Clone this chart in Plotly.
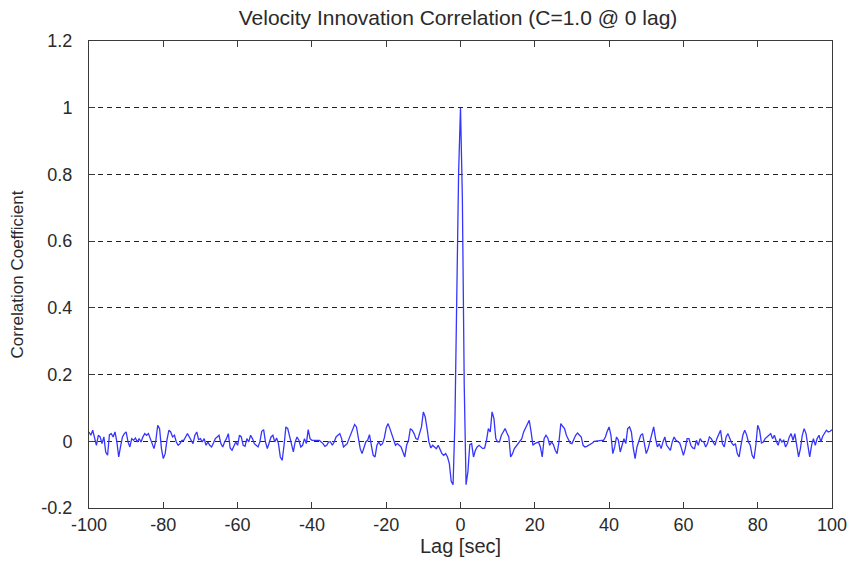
import numpy as np
import plotly.graph_objects as go

# Lag grid (sec), 0.5 s spacing
lag_step = 0.5
lags_neg = np.arange(-100, 0, lag_step)      # -100 ... -0.5
lags_pos = np.arange(0, 100 + lag_step / 2, lag_step)  # 0 ... 100

# Correlation coefficient for negative lags (-100 ... -0.5)
corr_neg = [
    0.028, 0.018, 0.033, 0.008, -0.012, 0.018, 0.013, -0.007, 0.013, -0.032,
    -0.042, 0.020, 0.023, 0.013, 0.028, -0.002, -0.047, -0.015, 0.013, 0.023,
    0.028, -0.002, -0.017, 0.008, 0.003, 0.010, -0.002, 0.008, -0.002, 0.013,
    0.023, 0.018, 0.023, 0.008, -0.005, -0.022, 0.003, 0.048, 0.038, -0.022,
    -0.052, -0.037, 0.005, 0.033, 0.028, 0.013, 0.018, -0.002, -0.012, -0.007,
    0.003, 0.003, 0.013, 0.023, 0.013, 0.003, -0.007, 0.018, 0.028, 0.005,
    0.008, -0.002, 0.008, -0.012, -0.002, -0.012, -0.017, -0.005, 0.008, 0.013,
    0.018, -0.007, -0.017, -0.002, 0.008, 0.023, -0.020, -0.027, -0.012, -0.002,
    -0.012, 0.018, 0.013, -0.012, -0.015, 0.008, -0.002, 0.018, 0.008, -0.007,
    -0.012, -0.017, -0.002, 0.030, 0.035, -0.002, -0.022, -0.007, 0.013, 0.018,
    -0.002, 0.010, -0.007, -0.047, -0.057, -0.012, 0.043, 0.038, 0.013, -0.005,
    -0.032, -0.002, 0.013, 0.003, -0.017, -0.012, 0.008, -0.007, 0.035, 0.008,
    0.003, 0.003, 0.003, 0.003, 0.003, -0.002, -0.007, -0.015, -0.012, -0.002,
    -0.002, -0.012, -0.002, 0.013, 0.018, 0.023, 0.008, -0.017, -0.012, -0.007,
    0.008, 0.023, 0.033, 0.050, 0.043, 0.013, -0.022, -0.037, -0.022, -0.002,
    0.003, 0.020, -0.012, -0.042, -0.047, -0.012, -0.002, -0.012, -0.007, 0.010,
    0.040, 0.053, 0.038, 0.023, 0.003, -0.012, -0.007, -0.012, -0.017, -0.032,
    -0.047, -0.012, 0.003, 0.038, 0.033, 0.023, 0.008, 0.005, 0.023, 0.043,
    0.088, 0.073, 0.038, -0.002, -0.020, -0.012, -0.017, -0.022, -0.012, -0.027,
    -0.037, -0.042, -0.037, -0.047, -0.067, -0.120, -0.130, 0.060, 0.440, 0.810,
]

# Correlation coefficient for lags 0 ... 100
corr_pos = [
    1.000, 0.730, 0.170, -0.130, -0.090, -0.010, -0.007, -0.047, -0.027, -0.017,
    -0.012, -0.018, -0.022, -0.020, 0.003, 0.038, 0.028, 0.088, 0.068, 0.008,
    -0.002, -0.002, 0.018, 0.028, 0.038, 0.025, 0.013, -0.047, -0.037, -0.022,
    -0.015, -0.005, 0.000, 0.008, 0.028, 0.040, 0.050, 0.063, 0.028, -0.012,
    -0.007, -0.005, -0.002, -0.017, -0.047, 0.008, 0.018, 0.010, -0.012, -0.002,
    -0.010, -0.027, -0.037, -0.002, 0.053, 0.045, 0.038, 0.018, 0.005, -0.005,
    -0.007, 0.008, 0.018, 0.025, 0.020, 0.013, -0.012, -0.017, -0.015, -0.012,
    -0.007, -0.005, 0.000, 0.001, 0.003, 0.003, 0.003, 0.003, 0.013, 0.030,
    0.043, 0.018, -0.037, -0.017, 0.013, 0.003, -0.032, -0.012, 0.008, -0.007,
    0.038, 0.043, 0.028, -0.020, -0.052, -0.017, -0.002, 0.018, 0.023, -0.007,
    -0.037, -0.022, -0.002, 0.018, 0.043, 0.008, -0.017, -0.007, -0.022, -0.002,
    0.013, -0.012, -0.020, -0.027, -0.002, 0.013, 0.003, -0.002, -0.005, -0.022,
    -0.042, -0.022, 0.008, 0.008, -0.012, -0.020, -0.022, 0.003, -0.012, 0.008,
    0.000, -0.002, -0.017, -0.007, 0.013, 0.008, -0.002, -0.012, 0.008, 0.023,
    0.033, -0.007, -0.017, 0.013, 0.023, 0.008, -0.005, -0.012, -0.007, -0.037,
    -0.047, -0.012, 0.018, 0.033, 0.020, -0.002, -0.012, -0.042, -0.052, -0.012,
    0.048, 0.033, -0.005, -0.002, 0.008, 0.013, 0.018, 0.023, 0.008, 0.018,
    0.000, -0.012, 0.008, -0.002, 0.003, -0.017, -0.007, 0.013, 0.023, 0.003,
    0.023, -0.012, -0.047, -0.022, 0.018, 0.038, 0.023, -0.012, -0.047, -0.012,
    0.008, -0.012, 0.008, 0.018, -0.002, 0.015, 0.023, 0.033, 0.028, 0.030,
    0.035,
]

assert len(corr_neg) == len(lags_neg)
assert len(corr_pos) == len(lags_pos)

lags = np.concatenate([lags_neg, lags_pos])
corr = np.array(corr_neg + corr_pos)

x_tickvals = [-100, -80, -60, -40, -20, 0, 20, 40, 60, 80, 100]
x_ticktext = ["-100", "-80", "-60", "-40", "-20", "0", "20", "40", "60", "80", "100"]
y_tickvals = [-0.2, 0, 0.2, 0.4, 0.6, 0.8, 1.0, 1.2]
y_ticktext = ["-0.2", "0", "0.2", "0.4", "0.6", "0.8", "1", "1.2"]

title_text = "Velocity Innovation Correlation (C=1.0 @ 0 lag)"
x_label = "Lag [sec]"
y_label = "Correlation Coefficient"

FONT = "Liberation Sans, Arial, sans-serif"
TXT = "#2a2a2a"
AX = "#3a3a3a"

fig = go.Figure()
fig.add_trace(go.Scatter(
    x=lags, y=corr, mode="lines",
    line=dict(color="#3535ff", width=1.3),
    showlegend=False, hoverinfo="x+y",
))

fig.update_layout(
    width=853, height=564,
    margin=dict(l=89, r=21, t=41, b=56, pad=0),
    paper_bgcolor="white", plot_bgcolor="white",
    font=dict(family=FONT, color=TXT, size=17),
    title=dict(text=title_text, x=0.537, xanchor="center", y=0.968, yanchor="middle",
               font=dict(family=FONT, size=21, color=TXT)),
    showlegend=False,
)

fig.update_xaxes(
    range=[-100, 100], tickvals=x_tickvals, ticktext=x_ticktext,
    automargin=False,
    showgrid=False, zeroline=False,
    showline=True, linecolor=AX, linewidth=1, mirror="ticks",
    ticks="inside", ticklen=6, tickcolor=AX, tickwidth=1,
    tickfont=dict(family=FONT, size=18, color=TXT),
    title=dict(text=x_label, font=dict(family=FONT, size=20, color=TXT), standoff=4),
)
fig.update_yaxes(
    range=[-0.2, 1.2], tickvals=y_tickvals, ticktext=y_ticktext,
    automargin=False,
    showgrid=True, gridcolor="#222222", gridwidth=1, griddash="5px,4px",
    zeroline=False,
    showline=True, linecolor=AX, linewidth=1, mirror="ticks",
    ticks="inside", ticklen=6, tickcolor=AX, tickwidth=1,
    ticklabelstandoff=12,
    tickfont=dict(family=FONT, size=18, color=TXT),
    title=dict(text=y_label, font=dict(family=FONT, size=17, color=TXT), standoff=13),
)

fig.write_html("out.html")
